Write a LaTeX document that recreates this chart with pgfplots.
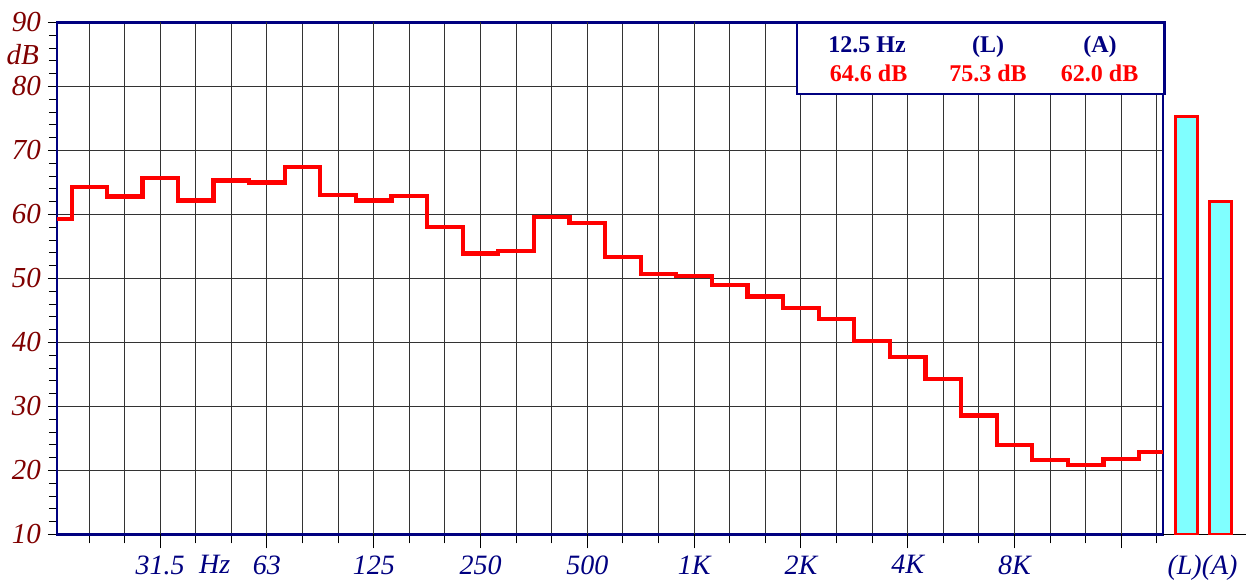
\documentclass[border=0pt]{standalone}
\usepackage{fontspec}
\setmainfont{Liberation Serif}
\usepackage{pgfplots}
\pgfplotsset{compat=1.18}
\definecolor{navy}{HTML}{000080}
\definecolor{dbred}{HTML}{800000}
\definecolor{cyanfill}{HTML}{80FFFF}
\begin{document}
\begin{tikzpicture}
\useasboundingbox (0,0) rectangle (623pt,290.5pt);
\begin{axis}[
  at={(28.5pt,23.25pt)}, anchor=south west,
  scale only axis, width=553pt, height=256pt,
  xmin=-0.899, xmax=30.17, ymin=10, ymax=90,
  axis line style={navy, line width=1.4pt},
  tick align=outside, tick pos=left,
  xtick={0,...,30}, xticklabels={},
  extra x ticks={2,5,...,29},
  extra x tick labels={31.5,63,125,250,500,1K,2K,4K,8K,{}},
  extra x tick style={major tick length=7pt, grid=major},
  ytick={10,20,...,90},
  minor y tick num=4,
  major tick length=4.5pt, minor tick length=4pt,
  tick style={black, line width=0.5pt},
  xmajorgrids, ymajorgrids,
  grid style={black!80, line width=0.5pt},
  /pgf/number format/assume math mode=true,
  yticklabel style={font=\fontsize{14.5}{16}\selectfont\itshape, text=dbred},
  xticklabel style={font=\fontsize{14}{16}\selectfont\itshape, text=navy},
]
\addplot[const plot mark left, red, line width=2.1pt, line join=miter, mark=none] coordinates {
(-0.899,59.3) (-0.47,64.3) (0.5,62.8) (1.5,65.7) (2.5,62.2) (3.5,65.3) (4.5,65.0)
(5.5,67.4) (6.5,63.0) (7.5,62.2) (8.5,62.9) (9.5,58.0) (10.5,53.9) (11.5,54.3)
(12.5,59.6) (13.5,58.7) (14.5,53.4) (15.5,50.7) (16.5,50.4) (17.5,49.0) (18.5,47.2)
(19.5,45.4) (20.5,43.7) (21.5,40.2) (22.5,37.7) (23.5,34.3) (24.5,28.6) (25.5,24.0)
(26.5,21.6) (27.5,20.8) (28.5,21.8) (29.5,22.9) (30.17,22.9)};
\end{axis}
\node[font=\fontsize{14}{16}\selectfont\itshape, text=navy, anchor=base] at (107.3pt,3.7pt) {Hz};
\node[font=\fontsize{14.5}{16}\selectfont\itshape, text=dbred, anchor=base east] at (23pt,258pt) {dB};
\draw[navy, line width=1.1pt, fill=white] (398.3pt,243.3pt) rectangle (582.2pt,279.2pt);
\begin{scope}[every node/.style={font=\fontsize{12}{14}\selectfont\bfseries, anchor=base}]
\node[text=navy] at (433.5pt,264.2pt) {12.5 Hz};
\node[text=navy] at (494pt,264.2pt) {(L)};
\node[text=navy] at (550pt,264.2pt) {(A)};
\node[text=red] at (434.3pt,249.7pt) {64.6 dB};
\node[text=red] at (494pt,249.7pt) {75.3 dB};
\node[text=red] at (549.8pt,249.7pt) {62.0 dB};
\end{scope}
\begin{axis}[
  at={(581.5pt,23.25pt)}, anchor=south west,
  scale only axis, width=41.5pt, height=256pt,
  xmin=0, xmax=83, ymin=10, ymax=90,
  axis y line=none, axis x line=bottom,
  x axis line style={-, black, line width=0.6pt},
  xtick={39.5}, xticklabels={(L)(A)},
  tick align=outside, major tick length=7pt, xtick style={draw=none},
  xticklabel style={font=\fontsize{14}{16}\selectfont\itshape, text=navy},
  ybar, bar width=21.7,
]
\addplot[fill=cyanfill, draw=red, line width=1.6pt] coordinates {(23.5,75.3) (57.5,62.0)};
\end{axis}
\end{tikzpicture}
\end{document}
